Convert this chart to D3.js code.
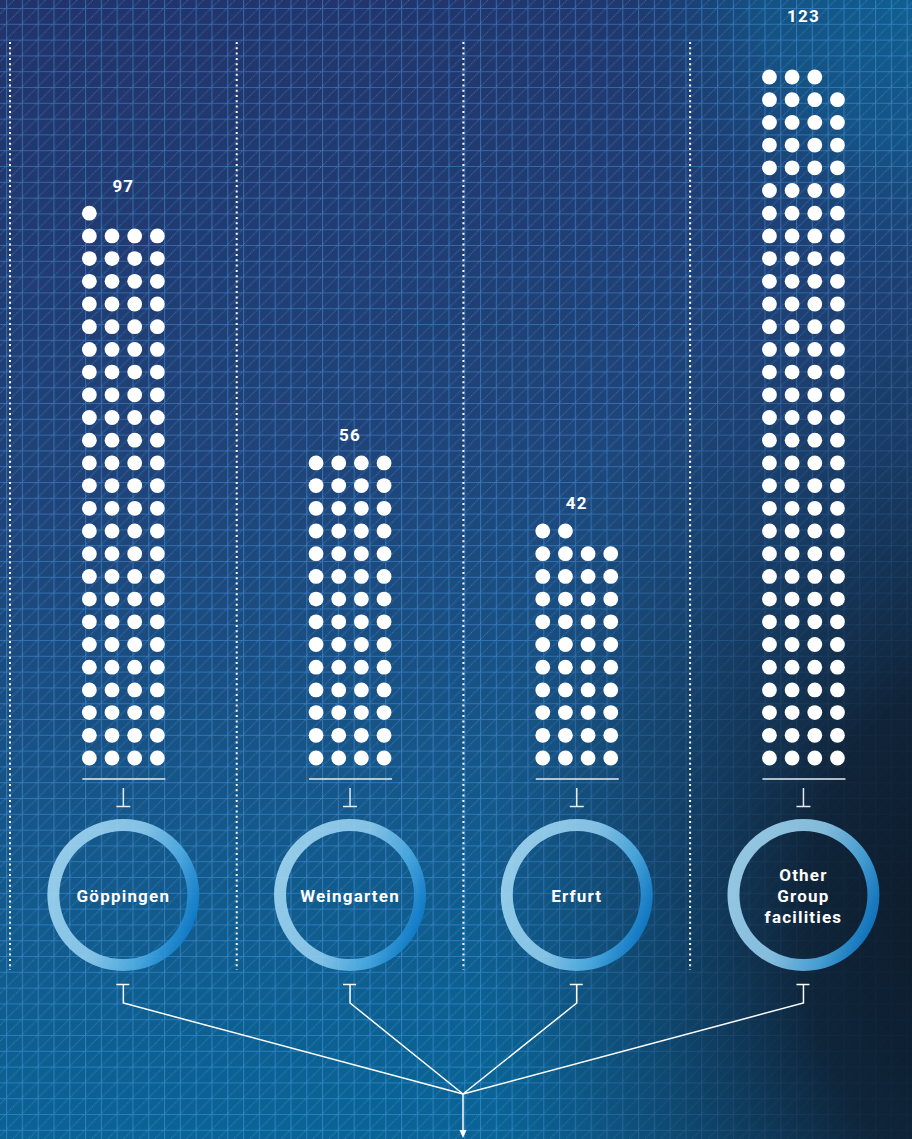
<!DOCTYPE html>
<html>
<head>
<meta charset="utf-8">
<script src="https://cdn.jsdelivr.net/npm/d3@7"></script>
<style>
  html, body { margin: 0; padding: 0; background: #1c3560; }
  svg { display: block; }
  text { font-family: Roboto, "Noto Sans", sans-serif; font-weight: 700; fill: #ffffff; }
</style>
</head>
<body>
<script>
// Apprentices and students by site
const categories = ["Göppingen", "Weingarten", "Erfurt", "Other Group facilities"];
const values = [97, 56, 42, 123];
const labelLines = [["Göppingen"], ["Weingarten"], ["Erfurt"], ["Other", "Group", "facilities"]];
const dotsPerRow = 4;

const W = 912, H = 1139;

const svg = d3.select("body").append("svg")
  .attr("width", W).attr("height", H);
const defs = svg.append("defs");

// ---- background ----
const base = defs.append("linearGradient").attr("id", "bgBase")
  .attr("x1", 0).attr("y1", 0).attr("x2", 0.15).attr("y2", 1);
[[0, "#22336a"], [0.45, "#1f4479"], [0.75, "#15588a"], [1, "#0a6394"]]
  .forEach(([o, c]) => base.append("stop").attr("offset", o).attr("stop-color", c));

const teal = defs.append("radialGradient").attr("id", "bgTeal")
  .attr("gradientUnits", "userSpaceOnUse").attr("cx", 930).attr("cy", -20).attr("r", 340);
[[0, "#0f6293", 1], [0.5, "#125a8a", 0.75], [1, "#1a3a6a", 0]]
  .forEach(([o, c, a]) => teal.append("stop").attr("offset", o).attr("stop-color", c).attr("stop-opacity", a));

const cell = 15.8;
const grid = defs.append("pattern").attr("id", "grid")
  .attr("patternUnits", "userSpaceOnUse")
  .attr("x", 6).attr("y", 8).attr("width", cell).attr("height", cell);
grid.append("path").attr("d", `M0.5,0V${cell}M0,0.5H${cell}`)
  .attr("stroke", "#56aeff").attr("stroke-opacity", 0.38).attr("stroke-width", 1.2).attr("fill", "none");
grid.append("path").attr("d", `M0,${cell}L${cell},0`)
  .attr("stroke", "#56aeff").attr("stroke-opacity", 0.45).attr("stroke-width", 1)
  .attr("stroke-dasharray", "1 1").attr("fill", "none");

const dark = defs.append("radialGradient").attr("id", "bgDark")
  .attr("gradientUnits", "userSpaceOnUse").attr("cx", 980).attr("cy", 930)
  .attr("r", 640).attr("gradientTransform", "translate(980 930) scale(0.78 1.15) translate(-980 -930)");
[[0, "#0c1420", 0.95], [0.35, "#0f1a2a", 0.85], [0.65, "#142540", 0.45], [1, "#1a3050", 0]]
  .forEach(([o, c, a]) => dark.append("stop").attr("offset", o).attr("stop-color", c).attr("stop-opacity", a));

svg.append("rect").attr("width", W).attr("height", H).attr("fill", "url(#bgBase)");
svg.append("rect").attr("width", W).attr("height", H).attr("fill", "url(#bgTeal)");
svg.append("rect").attr("width", W).attr("height", H).attr("fill", "url(#grid)");
svg.append("rect").attr("width", W).attr("height", H).attr("fill", "url(#bgDark)");

// ---- scales ----
const x = d3.scaleBand().domain(categories).range([10, 10 + 4 * 226.7]).padding(0);
const cx = c => x(c) + x.bandwidth() / 2;
const row = d3.scaleLinear().domain([0, 30]).range([758, 77]);
const col = d3.scaleLinear().domain([0, dotsPerRow - 1]).range([-34, 34]);

const data = categories.map((c, i) => ({ cat: c, value: values[i], lines: labelLines[i] }));
const maxVal = d3.max(values);
const plotTop = 22;

// dotted separators
svg.append("g").selectAll("line").data(categories).join("line")
  .attr("x1", d => x(d)).attr("x2", d => x(d))
  .attr("y1", 42).attr("y2", 970)
  .attr("stroke", "#ffffff").attr("stroke-width", 2)
  .attr("stroke-dasharray", "2 3.3");

// ring gradient
const ringGrad = defs.append("linearGradient").attr("id", "ringGrad")
  .attr("x1", 0).attr("y1", 0.2).attr("x2", 1).attr("y2", 0.6);
[[0, "#a9dcf5"], [0.5, "#93cff0"], [0.78, "#4daee6"], [1, "#0e7ccc"]]
  .forEach(([o, c]) => ringGrad.append("stop").attr("offset", o).attr("stop-color", c));

const ringCY = 895, ringR = 76, ringW = 12;
const arc = d3.arc().innerRadius(ringR - ringW).outerRadius(ringR).startAngle(0).endAngle(2 * Math.PI);

const groups = svg.append("g").selectAll("g.site").data(data).join("g")
  .attr("class", "site").attr("transform", d => `translate(${cx(d.cat)},0)`);

// dots
groups.each(function(d) {
  const dots = d3.range(d.value).map(k => ({ r: Math.floor(k / dotsPerRow), c: k % dotsPerRow }));
  d3.select(this).selectAll("circle.dot").data(dots).join("circle")
    .attr("class", "dot")
    .attr("cx", p => col(p.c)).attr("cy", p => row(p.r))
    .attr("r", 7.4).attr("fill", "#ffffff");
});

// value labels
groups.append("text")
  .attr("text-anchor", "middle")
  .attr("font-size", 17).attr("letter-spacing", 1.2)
  .attr("y", d => d.value === maxVal ? plotTop
    : row(Math.ceil(d.value / dotsPerRow)) + 1)
  .text(d => d.value);

// baseline and tick mark
const g2 = groups.append("g").attr("stroke", "#e6ecf2").attr("stroke-width", 1.5).attr("fill", "none");
g2.append("line").attr("x1", -41).attr("x2", 42).attr("y1", 779).attr("y2", 779);
g2.append("path").attr("d", "M0,788V806M-7,806.5H7");

// rings
groups.append("path").attr("d", arc).attr("transform", `translate(0,${ringCY})`)
  .attr("fill", "url(#ringGrad)").attr("fill-opacity", 0.88);

groups.each(function(d) {
  const n = d.lines.length;
  d3.select(this).selectAll("text.lbl").data(d.lines).join("text")
    .attr("class", "lbl")
    .attr("text-anchor", "middle").attr("font-size", 17).attr("letter-spacing", 1.2)
    .attr("y", (t, i) => ringCY + 7 + (i - (n - 1) / 2) * 21)
    .text(t => t);
});

// connectors to a common arrow
const join = { x: 463, y: 1094 };
const conn = svg.append("g").attr("stroke", "#ffffff").attr("stroke-width", 1.5).attr("fill", "none");
conn.selectAll("path").data(data).join("path")
  .attr("d", d => `M${cx(d.cat) - 7},984.5H${cx(d.cat) + 6}M${cx(d.cat)},984.5V1003L${join.x},${join.y}`);
conn.append("path").attr("d", `M${join.x},${join.y}V1132`);
svg.append("path")
  .attr("d", `M${join.x - 3.5},1130L${join.x + 3.5},1130L${join.x},1138Z`)
  .attr("fill", "#ffffff");
</script>
</body>
</html>
